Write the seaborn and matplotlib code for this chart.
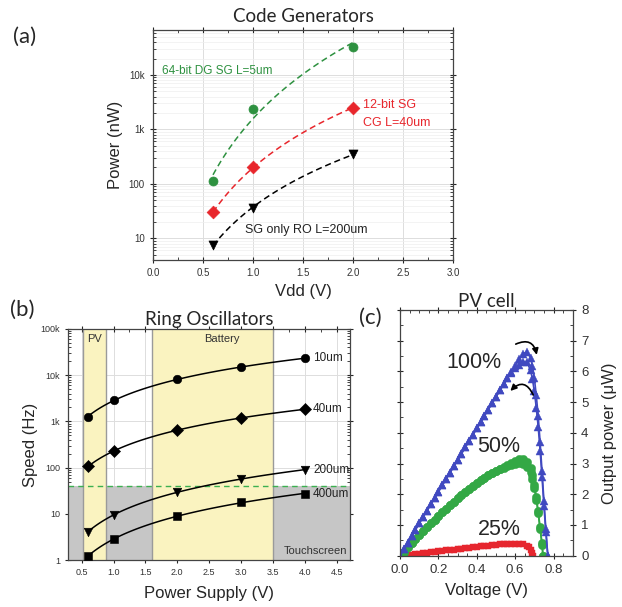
import numpy as np
import pandas as pd
import matplotlib.pyplot as plt
import seaborn as sns
from matplotlib.ticker import MultipleLocator, LogLocator, NullFormatter

# ---- (a) code generators ----
vdd = [0.6, 1.0, 2.0]
p_64bit = [115, 2400, 33000]
p_12bit = [30, 200, 2500]
p_ro = [7.5, 36, 350]

# ---- (b) ring oscillators ----
supply = [0.6, 1.0, 2.0, 3.0, 4.0]
f_10um = [1260, 2900, 8100, 15100, 23000]
f_40um = [107, 225, 640, 1200, 1830]
f_200um = [4.1, 9.5, 29, 57, 90]
f_400um = [1.22, 2.8, 9.1, 17.6, 27]
ro_labels = ["10um", "40um", "200um", "400um"]
touch_level = 40
pv_band = (0.52, 0.88)
battery_band = (1.6, 3.5)

# ---- (c) PV cell ----
v_100 = [0.00, 0.02, 0.04, 0.06, 0.08, 0.10, 0.12, 0.14, 0.16, 0.18, 0.20, 0.22, 0.24,
         0.26, 0.28, 0.30, 0.32, 0.34, 0.36, 0.38, 0.40, 0.42, 0.44, 0.46, 0.48, 0.50,
         0.52, 0.54, 0.56, 0.58, 0.60, 0.62, 0.64, 0.66, 0.68, 0.69, 0.70, 0.71, 0.72,
         0.73, 0.74, 0.75, 0.76, 0.77]
p_100_fwd = [0.00, 0.21, 0.42, 0.63, 0.84, 1.05, 1.26, 1.46, 1.67, 1.88, 2.08, 2.29, 2.50,
             2.70, 2.91, 3.12, 3.32, 3.53, 3.74, 3.94, 4.15, 4.35, 4.56, 4.76, 4.97, 5.17,
             5.38, 5.58, 5.78, 5.98, 6.18, 6.40, 6.56, 6.64, 6.45, 6.18, 5.78, 5.22, 4.55,
             3.70, 2.75, 1.78, 0.86, 0.00]
p_100_rev = [0.00, 0.21, 0.42, 0.63, 0.84, 1.05, 1.26, 1.46, 1.67, 1.88, 2.08, 2.29, 2.50,
             2.70, 2.91, 3.12, 3.32, 3.53, 3.74, 3.94, 4.15, 4.35, 4.56, 4.76, 4.97, 5.17,
             5.38, 5.58, 5.77, 5.95, 6.10, 6.22, 6.32, 6.30, 6.05, 5.75, 5.35, 4.82, 4.20,
             3.42, 2.55, 1.62, 0.76, 0.00]

v_50 = [0.00, 0.02, 0.04, 0.06, 0.08, 0.10, 0.12, 0.14, 0.16, 0.18, 0.20, 0.22, 0.24,
        0.26, 0.28, 0.30, 0.32, 0.34, 0.36, 0.38, 0.40, 0.42, 0.44, 0.46, 0.48, 0.50,
        0.52, 0.54, 0.56, 0.58, 0.60, 0.62, 0.64, 0.66, 0.68, 0.69, 0.70, 0.71, 0.72,
        0.73, 0.74, 0.745]
p_50_fwd = [0.00, 0.13, 0.27, 0.40, 0.53, 0.66, 0.79, 0.92, 1.05, 1.17, 1.29, 1.41, 1.53,
            1.65, 1.76, 1.87, 1.98, 2.08, 2.18, 2.28, 2.37, 2.46, 2.54, 2.62, 2.69, 2.76,
            2.83, 2.89, 2.95, 3.01, 3.08, 3.16, 3.14, 3.05, 2.84, 2.62, 2.30, 1.92, 1.45,
            0.92, 0.40, 0.00]
p_50_rev = [0.00, 0.13, 0.27, 0.40, 0.53, 0.66, 0.79, 0.92, 1.05, 1.17, 1.29, 1.41, 1.53,
            1.65, 1.76, 1.87, 1.98, 2.08, 2.18, 2.28, 2.37, 2.46, 2.54, 2.62, 2.69, 2.76,
            2.82, 2.87, 2.92, 2.96, 2.99, 3.01, 2.98, 2.90, 2.72, 2.50, 2.20, 1.83, 1.38,
            0.86, 0.36, 0.00]

v_25 = [0.00, 0.02, 0.04, 0.06, 0.08, 0.10, 0.12, 0.14, 0.16, 0.18, 0.20, 0.22, 0.24,
        0.26, 0.28, 0.30, 0.32, 0.34, 0.36, 0.38, 0.40, 0.42, 0.44, 0.46, 0.48, 0.50,
        0.52, 0.54, 0.56, 0.58, 0.60, 0.62, 0.64, 0.66, 0.67, 0.68, 0.69, 0.695]
p_25 = [0.00, 0.01, 0.02, 0.035, 0.05, 0.065, 0.08, 0.095, 0.11, 0.125, 0.14, 0.155, 0.17,
        0.185, 0.20, 0.215, 0.23, 0.245, 0.26, 0.275, 0.29, 0.30, 0.315, 0.33, 0.34, 0.355,
        0.365, 0.375, 0.385, 0.39, 0.395, 0.395, 0.38, 0.33, 0.27, 0.19, 0.09, 0.00]

sns.set_style("ticks")
plt.rcParams["font.family"] = ["Liberation Sans", "DejaVu Sans"]
TITLE_FONT = ["Lato", "DejaVu Sans"]

GREEN = "#2e9140"
RED = "#e8262c"
BLUE = "#4049c0"
PV_GREEN = "#33a845"
PV_RED = "#e6262e"
YELLOW = "#faf3c0"
GRAY = "#c6c6c6"


def power_fit(x, y, x0, x1):
    # straight line in log-log space (power law), like the original fits
    k, b = np.polyfit(np.log10(x), np.log10(y), 1)
    xx = np.linspace(x0, x1, 120)
    return pd.DataFrame({"x": xx, "y": 10 ** (b + k * np.log10(xx))})


def style_ticks(ax, size=7):
    ax.tick_params(which="major", direction="inout", length=5, width=0.8,
                   top=True, right=True, labelsize=size, labelcolor="#333333")
    ax.tick_params(which="minor", direction="in", length=2.5, width=0.6,
                   top=True, right=True)
    for s in ax.spines.values():
        s.set_linewidth(0.9)
        s.set_color("#444444")


fig = plt.figure(figsize=(6.22, 6.07), dpi=100)

# ================= (a) =================
ax_a = fig.add_axes([0.2460, 0.5717, 0.4823, 0.3789])
ax_a.set_yscale("log")
ax_a.set_xlim(0, 3.0)
ax_a.set_ylim(4, 67000)
ax_a.grid(True, which="major", color="#dddddd", lw=0.7)
ax_a.grid(True, which="minor", axis="y", color="#efefef", lw=0.5)
ax_a.set_axisbelow(True)

series_a = [(p_64bit, GREEN, "o"), (p_12bit, RED, "D"), (p_ro, "black", "v")]
for vals, col, mk in series_a:
    fit = power_fit(vdd, vals, 0.6, 2.0)
    sns.lineplot(data=fit, x="x", y="y", ax=ax_a, color=col, lw=1.1,
                 linestyle=(0, (4, 2.5)), zorder=2)
    sns.scatterplot(x=vdd, y=vals, ax=ax_a, color=col, marker=mk, s=42,
                    edgecolor=col, linewidth=0.5, zorder=3)

ax_a.text(0.09, 11800, "64-bit DG SG L=5um", color=GREEN, fontsize=8.5, va="center")
ax_a.text(2.1, 2800, "12-bit SG", color=RED, fontsize=9, va="center")
ax_a.text(2.1, 1300, "CG L=40um", color=RED, fontsize=9, va="center")
ax_a.text(0.92, 14.5, "SG only RO L=200um", color="#222222", fontsize=9, va="center")

ax_a.xaxis.set_major_locator(MultipleLocator(0.5))
ax_a.xaxis.set_minor_locator(MultipleLocator(0.25))
ax_a.set_yticks([10, 100, 1000, 10000], labels=["10", "100", "1k", "10k"])
ax_a.yaxis.set_minor_locator(LogLocator(base=10, subs=np.arange(2, 10)))
ax_a.yaxis.set_minor_formatter(NullFormatter())
style_ticks(ax_a)
ax_a.set_xlabel("Vdd (V)", fontsize=12, labelpad=4)
ax_a.set_ylabel("Power (nW)", fontsize=12, labelpad=4)
ax_a.set_title("Code Generators", fontsize=13.5, family=TITLE_FONT, pad=6)

# ================= (b) =================
ax_b = fig.add_axes([0.1098, 0.0774, 0.4529, 0.3806])
ax_b.set_yscale("log")
xl = (0.29, 4.71)
ax_b.set_xlim(*xl)
ax_b.set_ylim(1, 1e5)
ax_b.grid(True, which="major", color="#dddddd", lw=0.7)
ax_b.set_axisbelow(True)

ax_b.fill_between(xl, 1, touch_level, color=GRAY, lw=0, zorder=0.8)
for lo, hi in (pv_band, battery_band):
    ax_b.axvspan(lo, hi, color=YELLOW, lw=0, zorder=0.9)
    ax_b.axvline(lo, color="#9a9a9a", lw=1.0, zorder=1)
    ax_b.axvline(hi, color="#9a9a9a", lw=1.0, zorder=1)
ax_b.axhline(touch_level, color="#3cb050", lw=1.0, linestyle=(0, (4, 3)), zorder=1.2)

series_b = [(f_10um, "o"), (f_40um, "D"), (f_200um, "v"), (f_400um, "s")]
for (vals, mk), lab in zip(series_b, ro_labels):
    fit = power_fit(supply, vals, 0.6, 4.0)
    sns.lineplot(data=fit, x="x", y="y", ax=ax_b, color="black", lw=1.1, zorder=2)
    sns.scatterplot(x=supply, y=vals, ax=ax_b, color="black", marker=mk, s=38,
                    edgecolor="black", linewidth=0.4, zorder=3)
    ax_b.text(4.13, vals[-1], lab, fontsize=8.5, va="center", color="#222222")

ax_b.text(0.70, 60000, "PV", fontsize=8, ha="center", va="center", color="#333333")
ax_b.text(2.70, 60000, "Battery", fontsize=8, ha="center", va="center", color="#333333")
ax_b.text(4.66, 1.55, "Touchscreen", fontsize=8, ha="right", va="center", color="#333333")

ax_b.xaxis.set_major_locator(MultipleLocator(0.5))
ax_b.xaxis.set_minor_locator(MultipleLocator(0.25))
ax_b.set_yticks([1, 10, 100, 1000, 10000, 100000],
                labels=["1", "10", "100", "1k", "10k", "100k"])
ax_b.yaxis.set_minor_locator(LogLocator(base=10, subs=np.arange(2, 10)))
ax_b.yaxis.set_minor_formatter(NullFormatter())
style_ticks(ax_b, size=6.5)
ax_b.set_xlabel("Power Supply (V)", fontsize=12, labelpad=6)
ax_b.set_ylabel("Speed (Hz)", fontsize=12, labelpad=2)
ax_b.set_title("Ring Oscillators", fontsize=13.5, family=TITLE_FONT, pad=3)

# ================= (c) =================
ax_c = fig.add_axes([0.6431, 0.0845, 0.2777, 0.4048])
ax_c.set_xlim(0, 0.9)
ax_c.set_ylim(0, 8)

curves_c = [
    (v_25, p_25, PV_RED, "s", 5),
    (v_50, p_50_rev, PV_GREEN, "o", 6),
    (v_50, p_50_fwd, PV_GREEN, "o", 6),
    (v_100, p_100_rev, BLUE, "^", 6),
    (v_100, p_100_fwd, BLUE, "^", 6),
]
for xs, ys, col, mk, ms in curves_c:
    sns.lineplot(x=xs, y=ys, ax=ax_c, color=col, lw=1.2, marker=mk, markersize=ms,
                 markeredgecolor=col, markeredgewidth=0.3, sort=False,
                 estimator=None)

ax_c.text(0.385, 6.3, "100%", fontsize=15.5, ha="center", va="center")
ax_c.text(0.515, 3.55, "50%", fontsize=15.5, ha="center", va="center")
ax_c.text(0.515, 0.85, "25%", fontsize=15.5, ha="center", va="center")

ax_c.annotate("", xy=(0.715, 6.45), xytext=(0.59, 6.85),
              arrowprops=dict(arrowstyle="-|>", color="black", lw=1.2,
                              connectionstyle="arc3,rad=-0.7", mutation_scale=9))
ax_c.annotate("", xy=(0.565, 5.3), xytext=(0.70, 5.15),
              arrowprops=dict(arrowstyle="-|>", color="black", lw=1.2,
                              connectionstyle="arc3,rad=0.8", mutation_scale=9))

ax_c.xaxis.set_major_locator(MultipleLocator(0.2))
ax_c.xaxis.set_minor_locator(MultipleLocator(0.05))
ax_c.yaxis.set_major_locator(MultipleLocator(1))
ax_c.yaxis.set_minor_locator(MultipleLocator(0.5))
style_ticks(ax_c, size=9.5)
ax_c.tick_params(which="both", labelleft=False, labelright=True)
ax_c.yaxis.set_label_position("right")
ax_c.set_xlabel("Voltage (V)", fontsize=12, labelpad=5)
ax_c.set_ylabel("Output power (\u03bcW)", fontsize=12, labelpad=10)
ax_c.set_title("PV cell", fontsize=13.5, family=TITLE_FONT, pad=2)

# panel letters
fig.text(0.040, 0.940, "(a)", fontsize=16, family=TITLE_FONT, ha="center", va="center")
fig.text(0.035, 0.489, "(b)", fontsize=16, family=TITLE_FONT, ha="center", va="center")
fig.text(0.595, 0.476, "(c)", fontsize=16, family=TITLE_FONT, ha="center", va="center")

plt.savefig("out.png", dpi=100)
